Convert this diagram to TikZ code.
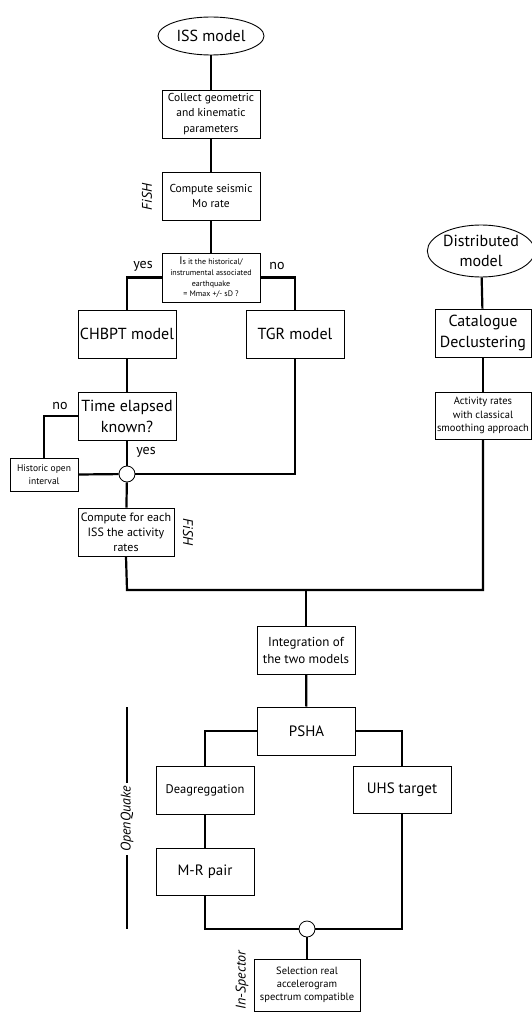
\documentclass[tikz,border=0pt]{standalone}
\usepackage{fontspec}
\setmainfont{PT Sans}
\usetikzlibrary{shapes.geometric,positioning,calc}

\tikzset{
  box/.style={draw, line width=0.9pt, fill=white, align=center, inner sep=1pt,
    minimum width=98pt, minimum height=48pt},
  start/.style={draw, line width=0.9pt, ellipse, align=center, inner sep=0pt},
  junct/.style={draw, line width=0.8pt, circle, fill=white, minimum size=16pt, inner sep=0pt},
  link/.style={line width=2.2pt},
  tool/.style={font=\fontsize{14}{14}\selectfont\itshape},
  answer/.style={font=\fontsize{14}{14}\selectfont}
}
\newcommand{\fs}[2]{\fontsize{#1}{#2}\selectfont}

\begin{document}
\begin{tikzpicture}[x=1pt,y=-1pt]
    \useasboundingbox (0,0) rectangle (532,1019);

    % ISS branch
    \node [start, minimum width=106pt, minimum height=38pt, font=\fs{16}{20}] (iss) at (211,36) {ISS model};
    \node [box, font=\fs{11.5}{15.5}] (collect) at (211,114) {Collect geometric\\and kinematic\\parameters};
    \node [box, font=\fs{11.5}{15}] (moment) at (211,196) {Compute seismic\\Mo rate};
    \node [tool, rotate=90] (fish1) at (147,197) {FiSH};
    \node [box, minimum height=49pt, font=\fs{8}{10.7}] (quest) at (211,277.5)
        {{\fs{11}{10.7}I}s it the historical/\\instrumental associated\\earthquake\\= Mmax +/- sD ?};
    \node [answer] (yes1) at (143,266) {yes};
    \node [answer] (no1) at (277,266) {no};
    \node [box, font=\fs{16}{21}] (chbpt) at (127,334) {CHBPT model};
    \node [box, font=\fs{16}{21}] (tgr) at (295,334) {TGR model};
    \node [box, font=\fs{16}{21}] (elapsed) at (127,416) {Time elapsed\\known?};
    \node [answer] (no2) at (60,406) {no};
    \node [answer] (yes2) at (146,452) {yes};
    \node [box, minimum width=68pt, minimum height=33pt, font=\fs{9.5}{13}] (historic) at (44,474.5) {Historic open\\interval};
    \node [junct] (j1) at (127,474) {};
    \node [box, minimum width=96pt, font=\fs{12}{15}] (rates) at (126,532) {Compute for each\\ISS the activity\\rates};
    \node [tool, rotate=-90] (fish2) at (188,532) {FiSH};

    % distributed branch
    \node [start, minimum width=102pt, minimum height=52pt, font=\fs{16}{20}] (distr) at (481,251) {Distributed\\model};
    \node [box, minimum width=96pt, font=\fs{16}{21}] (declust) at (483,333) {Catalogue\\Declustering};
    \node [box, minimum width=96pt, minimum height=47pt, font=\fs{10.5}{13.3}] (smooth) at (483,415.5)
        {Activity rates\\with classical\\smoothing approach};
    \coordinate (m1) at (127,590);
    \coordinate (m2) at (483,590);

    % hazard
    \node [box, font=\fs{13}{17}] (integ) at (306,650) {Integration of\\the two models};
    \node [box, font=\fs{15}{18}] (psha) at (306.5,731) {PSHA};
    \node [box, font=\fs{12.5}{16}] (deag) at (205,790) {Deagreggation};
    \node [box, minimum height=47pt, font=\fs{15}{18}] (uhs) at (402,789.5) {UHS target};
    \node [box, minimum height=47pt, font=\fs{15}{18}] (mr) at (205,871.5) {M-R pair};
    \node [junct] (j2) at (307,929) {};
    \node [box, minimum width=106pt, minimum height=52pt, font=\fs{10.5}{13}] (select) at (307,985)
        {Selection real\\accelerogram\\spectrum compatible};
    \node [tool, rotate=90] (insp) at (242,980) {In-Spector};
    \node [tool, rotate=90] (oq) at (127,819) {OpenQuake};
    \coordinate (oqtop) at (127,707);
    \coordinate (oqbot) at (127,929);

    % connectors
    \draw [link] (iss) -- (collect);
    \draw [link] (collect) -- (moment);
    \draw [link] (moment) -- (quest);
    \draw [link] (quest.west) -| (chbpt.north);
    \draw [link] (quest.east) -| (tgr.north);
    \draw [link] (chbpt) -- (elapsed);
    \draw [link] (elapsed.west) -| (historic.north);
    \draw [link] (historic.east) -- (j1);
    \draw [link] (elapsed) -- (j1);
    \draw [link] (tgr.south) |- (j1.east);
    \draw [link] (j1) -- (rates);
    \draw [link] (distr) -- (declust);
    \draw [link] (declust) -- (smooth);
    \draw [link] (rates.south) -- (m1) -- (m2) -- (smooth.south);
    \draw [link] (integ) -- (integ |- m1);
    \draw [link] (integ) -- (psha);
    \draw [link] (psha.west) -| (deag.north);
    \draw [link] (psha.east) -| (uhs.north);
    \draw [link] (deag) -- (mr);
    \draw [link] (mr.south) |- (j2.west);
    \draw [link] (uhs.south) |- (j2.east);
    \draw [link] (j2) -- (select);
    \draw [link] (oqtop) -- (oq);
    \draw [link] (oq) -- (oqbot);
\end{tikzpicture}
\end{document}
